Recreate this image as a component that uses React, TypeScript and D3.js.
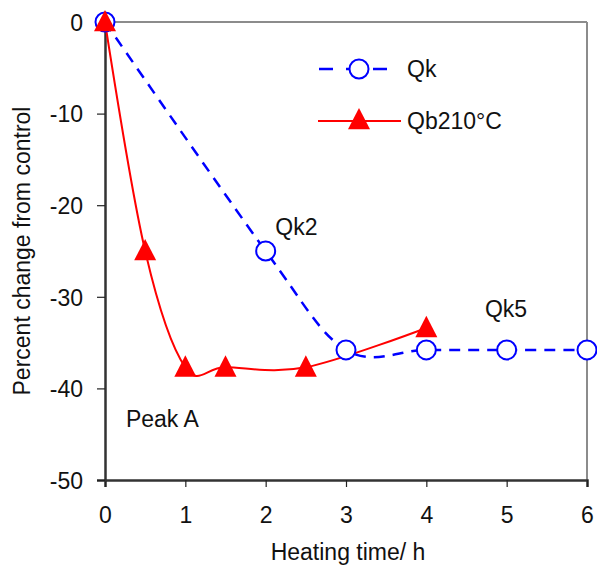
import React, { useEffect, useRef } from 'react';
import * as d3 from 'd3';

const qkTime = [0, 2, 3, 4, 5, 6];
const qkValues = [0, -25, -35.8, -35.8, -35.8, -35.8];

const qbTime = [0, 0.5, 1, 1.5, 2.5, 4];
const qbValues = [0, -25, -37.7, -37.7, -37.7, -33.4];

const xTicks = [0, 1, 2, 3, 4, 5, 6];
const yTicks = [0, -10, -20, -30, -40, -50];

const notes = [
  { label: 'Qk2', x: 2.12, y: -23.3 },
  { label: 'Qk5', x: 4.73, y: -32.2 },
  { label: 'Peak A', x: 0.26, y: -44.2 },
];

const FONT = 'Liberation Sans, Arial, sans-serif';
const FS = 23;

// Excel style triangle: a bit taller than equilateral
const excelTriangle = {
  draw(context: any, size: number) {
    const w = Math.sqrt(size) / 2;
    context.moveTo(0, -w * 1.1);
    context.lineTo(w, w * 0.85);
    context.lineTo(-w, w * 0.85);
    context.closePath();
  },
};

const App = () => {
  const svgRef = useRef<SVGSVGElement | null>(null);

  useEffect(() => {
    if (!svgRef.current) return;
    const width = 597;
    const height = 574;

    const svg = d3.select(svgRef.current);
    svg.selectAll('*').remove();
    svg.attr('width', width).attr('height', height);

    const x = d3.scaleLinear().domain([0, 6]).range([105, 587]);
    const y = d3.scaleLinear().domain([-50, 0]).range([480, 22]);

    // frame (top and right in grey)
    svg.append('line')
      .attr('x1', x(0)).attr('x2', x(6)).attr('y1', y(0)).attr('y2', y(0))
      .attr('stroke', '#8c8c8c').attr('stroke-width', 2);
    svg.append('line')
      .attr('x1', x(6)).attr('x2', x(6)).attr('y1', y(0)).attr('y2', y(-50))
      .attr('stroke', '#8c8c8c').attr('stroke-width', 2);

    // axes
    const xAxis = svg.append('g').attr('transform', `translate(0,${y(-50)})`)
      .call(d3.axisBottom(x).tickValues(xTicks).tickSize(7).tickPadding(20).tickFormat(d => String(d)));
    const yAxis = svg.append('g').attr('transform', `translate(${x(0)},0)`)
      .call(d3.axisLeft(y).tickValues(yTicks).tickSize(8).tickPadding(14).tickFormat(d => String(d)));
    [xAxis, yAxis].forEach(a => {
      a.select('.domain').attr('stroke', '#333').attr('stroke-width', 2.5);
      a.selectAll('.tick line').attr('stroke', '#222').attr('stroke-width', 1.2);
      a.selectAll('.tick text').attr('font-family', FONT).attr('font-size', FS).attr('fill', '#111');
    });
    yAxis.selectAll('.tick text').attr('dy', '0.36em');

    svg.append('text')
      .attr('x', (x(0) + x(6)) / 2 + 2).attr('y', 560)
      .attr('text-anchor', 'middle')
      .attr('font-family', FONT).attr('font-size', FS).attr('fill', '#111')
      .text('Heating time/ h');
    svg.append('text')
      .attr('transform', `translate(30,${(y(0) + y(-50)) / 2}) rotate(-90)`)
      .attr('text-anchor', 'middle')
      .attr('font-family', FONT).attr('font-size', FS).attr('fill', '#111')
      .text('Percent change from control');

    const curve = d3.curveCardinal.tension(0);

    // Qb line
    const qbData = qbTime.map((t, i) => [t, qbValues[i]] as [number, number]);
    svg.append('path')
      .datum(qbData)
      .attr('d', d3.line<[number, number]>().x(d => x(d[0])).y(d => y(d[1])).curve(curve))
      .attr('fill', 'none').attr('stroke', '#ff0000').attr('stroke-width', 2);

    // Qk line
    const qkData = qkTime.map((t, i) => [t, qkValues[i]] as [number, number]);
    svg.append('path')
      .datum(qkData)
      .attr('d', d3.line<[number, number]>().x(d => x(d[0])).y(d => y(d[1])).curve(curve))
      .attr('fill', 'none').attr('stroke', '#0000ff').attr('stroke-width', 2.5)
      .attr('stroke-dasharray', '11,8');

    const tri = d3.symbol().type(excelTriangle as any).size(484);

    svg.selectAll('circle.qk')
      .data(qkData)
      .enter()
      .append('circle')
      .attr('class', 'qk')
      .attr('cx', d => x(d[0])).attr('cy', d => y(d[1]))
      .attr('r', 9.5)
      .attr('fill', '#fff').attr('stroke', '#0000ff').attr('stroke-width', 2);

    svg.selectAll('path.qb')
      .data(qbData)
      .enter()
      .append('path')
      .attr('class', 'qb')
      .attr('d', tri)
      .attr('transform', d => `translate(${x(d[0])},${y(d[1])})`)
      .attr('fill', '#ff0000');

    // legend
    const lg = svg.append('g');
    lg.append('line')
      .attr('x1', 319).attr('x2', 399).attr('y1', 69).attr('y2', 69)
      .attr('stroke', '#0000ff').attr('stroke-width', 2.5).attr('stroke-dasharray', '14,13');
    lg.append('circle').attr('cx', 359).attr('cy', 69).attr('r', 9.5)
      .attr('fill', '#fff').attr('stroke', '#0000ff').attr('stroke-width', 2);
    lg.append('text').attr('x', 407).attr('y', 77)
      .attr('font-family', FONT).attr('font-size', FS).attr('fill', '#111').text('Qk');
    lg.append('line')
      .attr('x1', 318).attr('x2', 401).attr('y1', 121).attr('y2', 121)
      .attr('stroke', '#ff0000').attr('stroke-width', 2);
    lg.append('path').attr('d', tri).attr('transform', 'translate(359,120)').attr('fill', '#ff0000');
    lg.append('text').attr('x', 407).attr('y', 129)
      .attr('font-family', FONT).attr('font-size', FS).attr('fill', '#111').text('Qb210°C');

    svg.selectAll('text.note')
      .data(notes)
      .enter()
      .append('text')
      .attr('class', 'note')
      .attr('x', d => x(d.x)).attr('y', d => y(d.y))
      .attr('font-family', FONT).attr('font-size', FS).attr('fill', '#111')
      .text(d => d.label);
  }, []);

  return (
    <div style={{ position: 'absolute', left: 0, top: 0, width: 597, height: 574, overflow: 'hidden', background: '#fff' }}>
      <svg ref={svgRef} style={{ display: 'block' }}></svg>
    </div>
  );
};

export default App;
